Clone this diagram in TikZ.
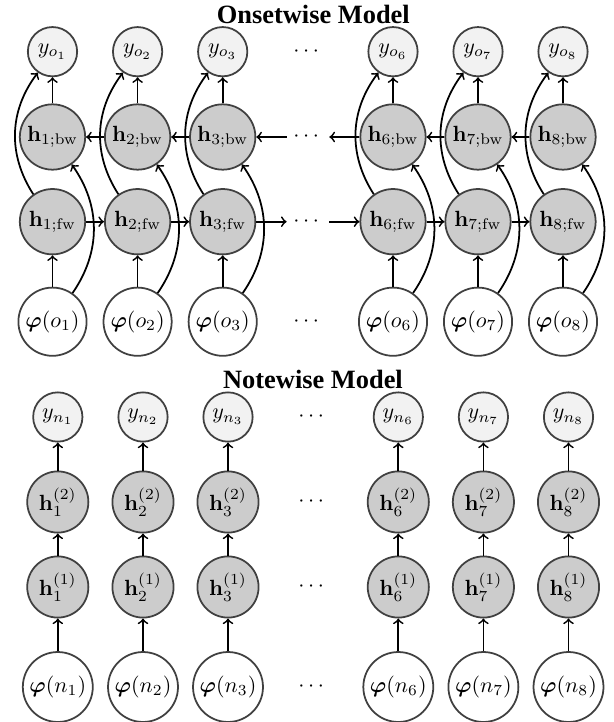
\documentclass[tikz,border=0pt]{standalone}
\usepackage{amsmath,bm}
\usepackage[no-math]{fontspec}
\newfontfamily\titlefont{Liberation Serif}
\begin{document}
\begin{tikzpicture}[x=0.4545pt,y=0.4545pt]
\tikzset{
 basenode/.style={circle, draw=black!75, line width=0.8pt, inner sep=0pt},
 ynode/.style={basenode, fill=black!5, minimum size=22.4pt},
 hnode/.style={basenode, fill=black!20, minimum size=29.7pt},
 hnnode/.style={basenode, fill=black!20, minimum size=27.8pt},
 pnode/.style={basenode, fill=white, minimum size=31pt},
 pnnode/.style={basenode, fill=white, minimum size=31.8pt},
 arr/.style={->, line width=0.8pt, black},
 dotsnode/.style={inner sep=0pt, minimum width=19pt, minimum height=10pt},
 titlenode/.style={font=\titlefont\bfseries\fontsize{12}{14}\selectfont, anchor=base}
}
\useasboundingbox (0,0) rectangle (613,-722);
% ---------- Onsetwise ----------
\node[titlenode] (t1) at (313.3,-24) {Onsetwise Model};
\foreach \i/\x in {1/52.5,2/137.6,3/222.7,6/393,7/478,8/563}{
  \node[ynode] (yo\i) at (\x,-51.7) {$y_{o_{\i}}$};
  \node[hnode] (hb\i) at (\x,-137) {$\mathbf{h}_{\i;\mathrm{bw}}$};
  \node[hnode] (hf\i) at (\x,-221.7) {$\mathbf{h}_{\i;\mathrm{fw}}$};
  \node[pnode] (po\i) at (\x,-321.7) {$\bm{\varphi}(o_{\i})$};
  \draw[arr] (hb\i) -- (yo\i);
  \draw[arr] (po\i) -- (hf\i);
  \draw[arr] (po\i.55) to[bend right=35] (hb\i.-55);
  \draw[arr] (hf\i.125) to[bend left=35] (yo\i.-125);
}
\node[dotsnode] (do) at (308,-51.7) {$\cdots$};
\node[dotsnode] (db) at (308,-137) {$\cdots$};
\node[dotsnode] (df) at (308,-221.7) {$\cdots$};
\node[dotsnode] (dp) at (308,-321.7) {$\cdots$};
\foreach \a/\b in {1/2,2/3,6/7,7/8}{
  \draw[arr] (hf\a) -- (hf\b);
  \draw[arr] (hb\b) -- (hb\a);
}
\draw[arr] (hf3) -- (df);
\draw[arr] (df) -- (hf6);
\draw[arr] (hb6) -- (db);
\draw[arr] (db) -- (hb3);
% ---------- Notewise ----------
\node[titlenode] (t2) at (313,-388) {Notewise Model};
\foreach \i/\x in {1/57.8,2/143,3/228,6/398.3,7/483.4,8/568.5}{
  \node[ynode] (yn\i) at (\x,-417) {$y_{n_{\i}}$};
  \node[hnnode] (ht\i) at (\x,-502) {$\mathbf{h}^{(2)}_{\i}$};
  \node[hnnode] (ho\i) at (\x,-587) {$\mathbf{h}^{(1)}_{\i}$};
  \node[pnnode] (pn\i) at (\x,-687) {$\bm{\varphi}(n_{\i})$};
  \draw[arr] (ht\i) -- (yn\i);
  \draw[arr] (ho\i) -- (ht\i);
  \draw[arr] (pn\i) -- (ho\i);
}
\node[dotsnode] (dn1) at (313,-417) {$\cdots$};
\node[dotsnode] (dn2) at (313,-502) {$\cdots$};
\node[dotsnode] (dn3) at (313,-587) {$\cdots$};
\node[dotsnode] (dn4) at (313,-687) {$\cdots$};
\end{tikzpicture}
\end{document}
